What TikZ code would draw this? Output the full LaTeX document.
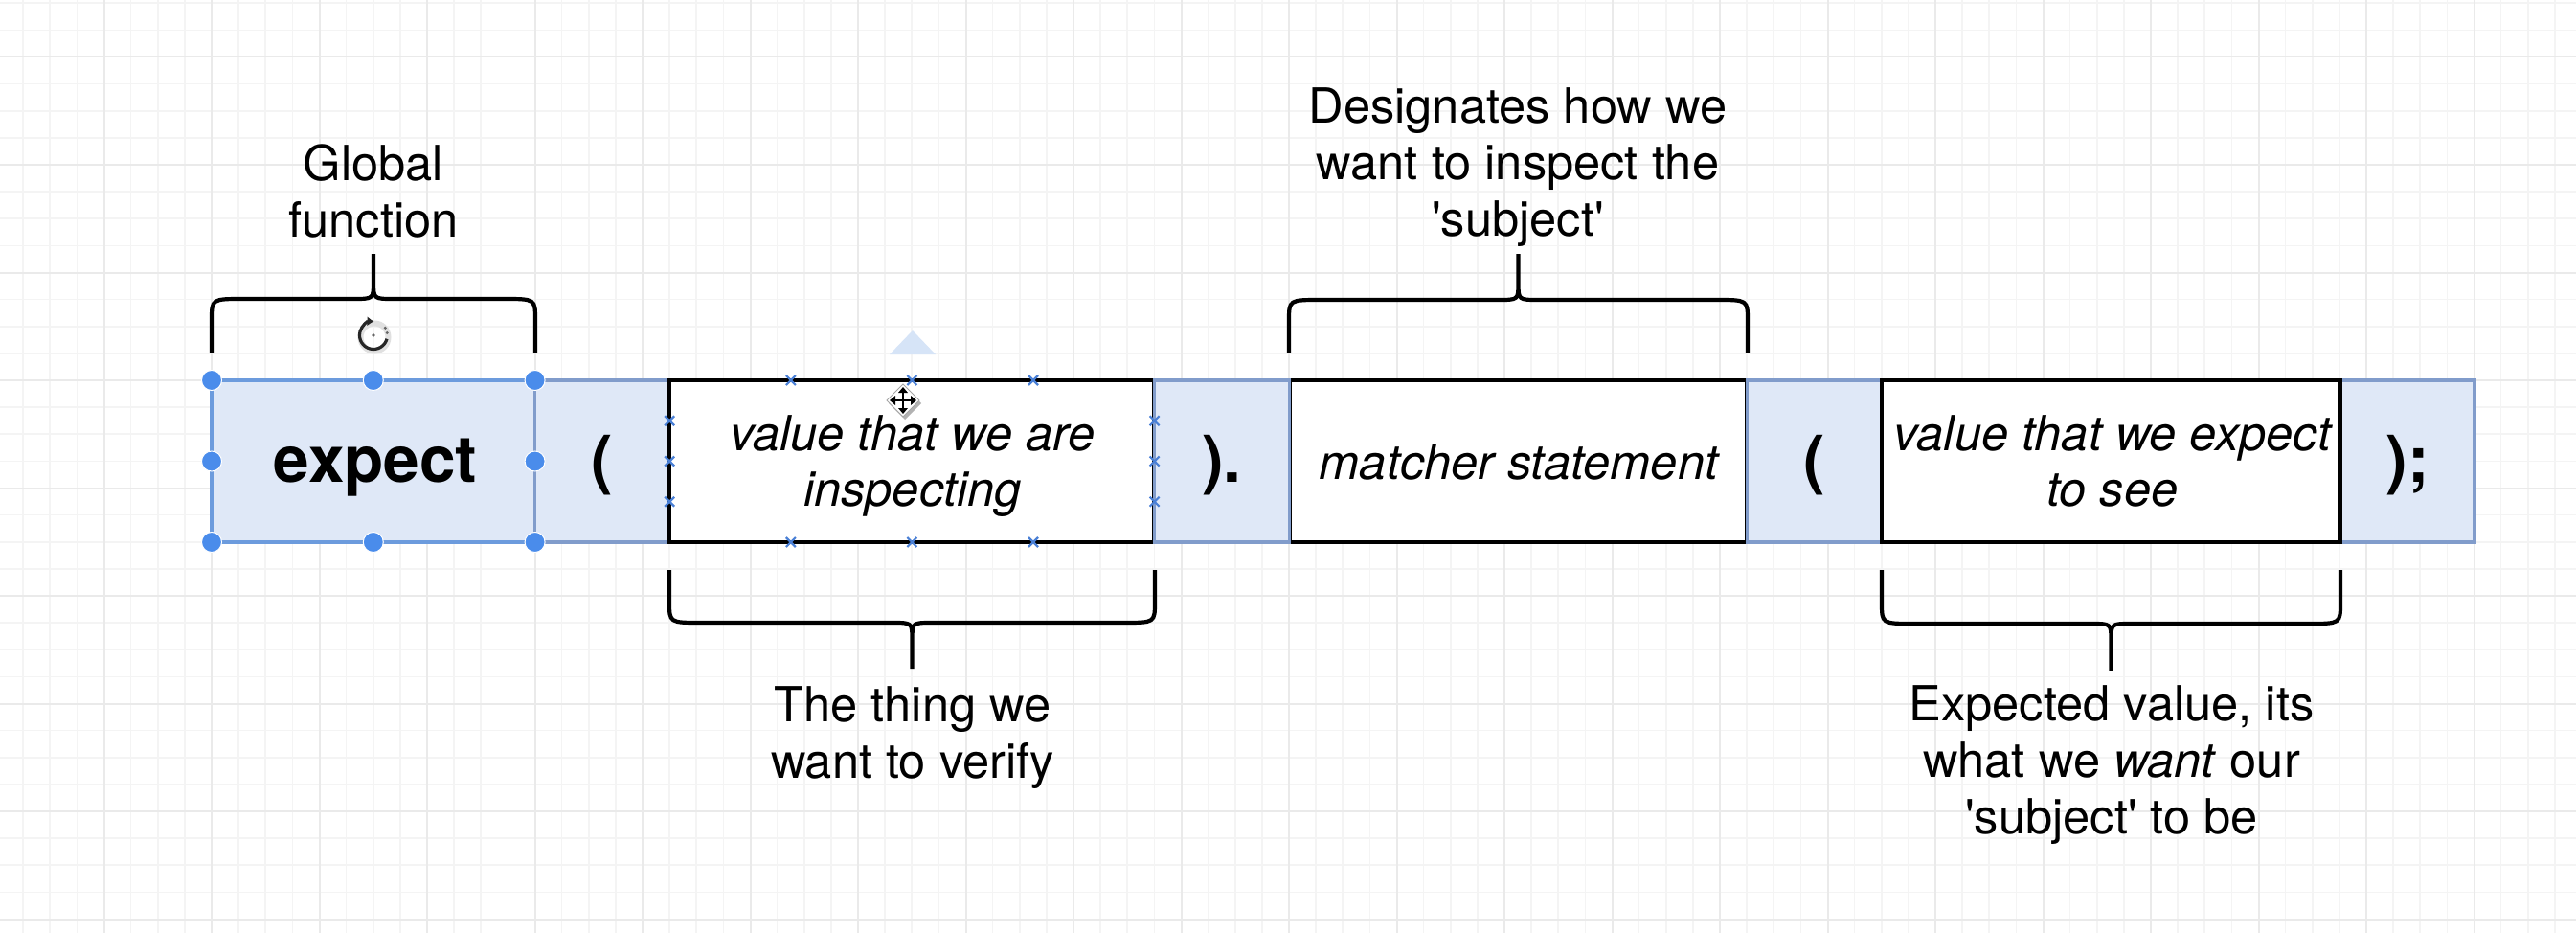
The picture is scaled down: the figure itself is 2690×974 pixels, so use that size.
\documentclass[tikz,border=0pt]{standalone}
\usepackage{fontspec}
\setmainfont{TeX Gyre Heros}
\usetikzlibrary{arrows.meta}
\definecolor{bfill}{HTML}{DFE8F7}
\definecolor{bline}{HTML}{819CCB}
\definecolor{selline}{HTML}{6C9BDD}
\definecolor{handle}{HTML}{4A8CEB}
\definecolor{gridminor}{HTML}{F4F4F4}
\definecolor{gridmajor}{HTML}{EAEAEA}
\definecolor{hint}{HTML}{D6E4F7}
\definecolor{xmark}{HTML}{4A80D6}
\newcommand\ml[1]{\begin{tabular}[t]{@{}c@{}}#1\end{tabular}}
\newcommand\sq{\textquotesingle}
% curly brace: L R yEnd yBar yTip sign
\newcommand\curlyb[6]{%
  \draw[bracestyle] (#1,#3) -- (#1,{#4+(#6)*22}) .. controls (#1,#4) .. ({#1+33},#4)
    -- ({(#1+#2)/2-21},#4) .. controls ({(#1+#2)/2},#4) .. ({(#1+#2)/2},{#4-(#6)*18})
    -- ({(#1+#2)/2},#5)
    (#2,#3) -- (#2,{#4+(#6)*22}) .. controls (#2,#4) .. ({#2-33},#4)
    -- ({(#1+#2)/2+21},#4) .. controls ({(#1+#2)/2},#4) .. ({(#1+#2)/2},{#4-(#6)*18});}
\begin{document}
\begin{tikzpicture}[x=1pt,y=-1pt,
  box/.style={inner sep=0pt, outer sep=0pt, minimum height=169pt},
  bluebox/.style={box, draw=bline, fill=bfill, line width=3.5pt},
  selbox/.style={box, draw=selline, fill=bfill, line width=3.5pt},
  whitebox/.style={box, draw=black, fill=white, line width=4.5pt},
  bracestyle/.style={draw=black, line width=4.2pt, line join=round},
  lbl/.style={inner sep=0pt, anchor=base, font=\fontsize{50.6pt}{59pt}\selectfont},
  itx/.style={inner sep=0pt, anchor=base, font=\fontsize{50.6pt}{58pt}\selectfont\itshape},
  bld/.style={inner sep=0pt, anchor=base, font=\fontsize{67.5pt}{80pt}\selectfont\bfseries},
  hdl/.style={fill=handle, draw=white, line width=1pt},
  xm/.style={draw=xmark, line width=2.2pt}
]
\useasboundingbox (0,0) rectangle (2690,974);
\fill[white] (0,0) rectangle (2690,974);
% grid
\foreach \i in {0,...,95} \draw[gridminor, line width=1.6pt] ({24.125+\i*28.125},0) -- ++(0,974);
\foreach \j in {0,...,34} \draw[gridminor, line width=1.6pt] (0,{3.25+\j*28.125}) -- ++(2690,0);
\foreach \i in {0,...,23} \draw[gridmajor, line width=2pt] ({-4+\i*112.5},0) -- ++(0,974);
\foreach \j in {0,...,8} \draw[gridmajor, line width=2pt] (0,{59.5+\j*112.5}) -- ++(2690,0);

% boxes (drawing order matters for shared edges)
\node[selbox, minimum width=337.6pt] (bExpect) at (389.8,481.5) {};
\node[bluebox, minimum width=140.6pt] (bOpen1) at (628.9,481.5) {};
\node[whitebox, minimum width=506.4pt] (bSubject) at (952.4,481.5) {};
\node[whitebox, minimum width=478.2pt] (bMatcher) at (1585.4,481.5) {};
\node[bluebox, minimum width=140.7pt] (bDot) at (1275.95,481.5) {};
\node[bluebox, minimum width=140.7pt] (bOpen2) at (1894.85,481.5) {};
\node[bluebox, minimum width=140.7pt] (bClose) at (2513.75,481.5) {};
\node[whitebox, minimum width=478.2pt] (bExpected) at (2204.3,481.5) {};

% box texts
\node[bld] (tExpect) at (392,503) {expect};
\node[bld] (tOpen1) at (629,503) {(};
\node[itx] (tSubject) at (953,470) {\ml{value that we are\\inspecting}};
\node[bld] (tDot) at (1276,503) {).};
\node[itx] (tMatcher) at (1586,500) {matcher statement};
\node[bld] (tOpen2) at (1895,503) {(};
\node[itx] (tExpected) at (2206,470) {\ml{value that we expect\\to see}};
\node[bld] (tClose) at (2514,503) {);};

% braces
\curlyb{221}{559}{368}{312}{265}{1}
\curlyb{1346}{1825}{368}{313}{265}{1}
\curlyb{699}{1206}{595}{650}{698}{-1}
\curlyb{1965}{2444}{595}{651}{700}{-1}

% labels
\node[lbl] (lGlobal) at (390,188) {\ml{Global\\function}};
\node[lbl] (lDesig) at (1585,128) {\ml{Designates how we\\want to inspect the\\\sq subject\sq}};
\node[lbl] (lThing) at (953,753) {\ml{The thing we\\want to verify}};
\node[lbl] (lExpVal) at (2205,752) {\ml{Expected value, its\\what we \textit{want} our\\\sq subject\sq{} to be}};

% selection handles on expect box
\foreach \a in {north west,north,north east,east,south east,south,south west,west}
  \filldraw[hdl] (bExpect.\a) circle[radius=10.5pt];

% connection marks on subject box
\foreach \px in {825.8,952.4,1079} {
  \draw[xm] ({\px-5},392) -- ({\px+5},402) ({\px-5},402) -- ({\px+5},392);
  \draw[xm] ({\px-5},561) -- ({\px+5},571) ({\px-5},571) -- ({\px+5},561);
}
\foreach \py in {439.25,481.5,523.75} {
  \draw[xm] (694.2,{\py-5}) -- (704.2,{\py+5}) (694.2,{\py+5}) -- (704.2,{\py-5});
  \draw[xm] (1200.6,{\py-5}) -- (1210.6,{\py+5}) (1200.6,{\py+5}) -- (1210.6,{\py-5});
}

% hover triangle
\fill[hint] (953,345) -- (977,370) -- (929,370) -- cycle;

% rotate icon
\begin{scope}[shift={(390,350)}, y=1pt]
  \draw[black!12, line width=6pt] (1,-2) circle[radius=14.5];
  \draw[black!85, line width=3.2pt, -{Latex[length=7pt,width=10pt]}] (-15:14.5) arc[start angle=-15, end angle=-272, radius=14.5];
  \fill[black!60] (10:14.5) circle[radius=1.7] (32:14.5) circle[radius=1.7] (0,0) circle[radius=1.9];
\end{scope}

% move cursor
\begin{scope}[shift={(943,418)}, y=1pt]
  \fill[black!30] (2,-20) -- (19,-3) -- (2,14) -- (-15,-3) -- cycle;
  \filldraw[fill=white, draw=black!35, line width=1pt] (0,-17) -- (17,0) -- (0,17) -- (-17,0) -- cycle;
  \draw[line width=2.4pt] (-9,0) -- (9,0) (0,-9) -- (0,9);
  \fill (14,0) -- (8,5) -- (8,-5) -- cycle;
  \fill (-14,0) -- (-8,5) -- (-8,-5) -- cycle;
  \fill (0,14) -- (5,8) -- (-5,8) -- cycle;
  \fill (0,-14) -- (5,-8) -- (-5,-8) -- cycle;
\end{scope}
\end{tikzpicture}
\end{document}
